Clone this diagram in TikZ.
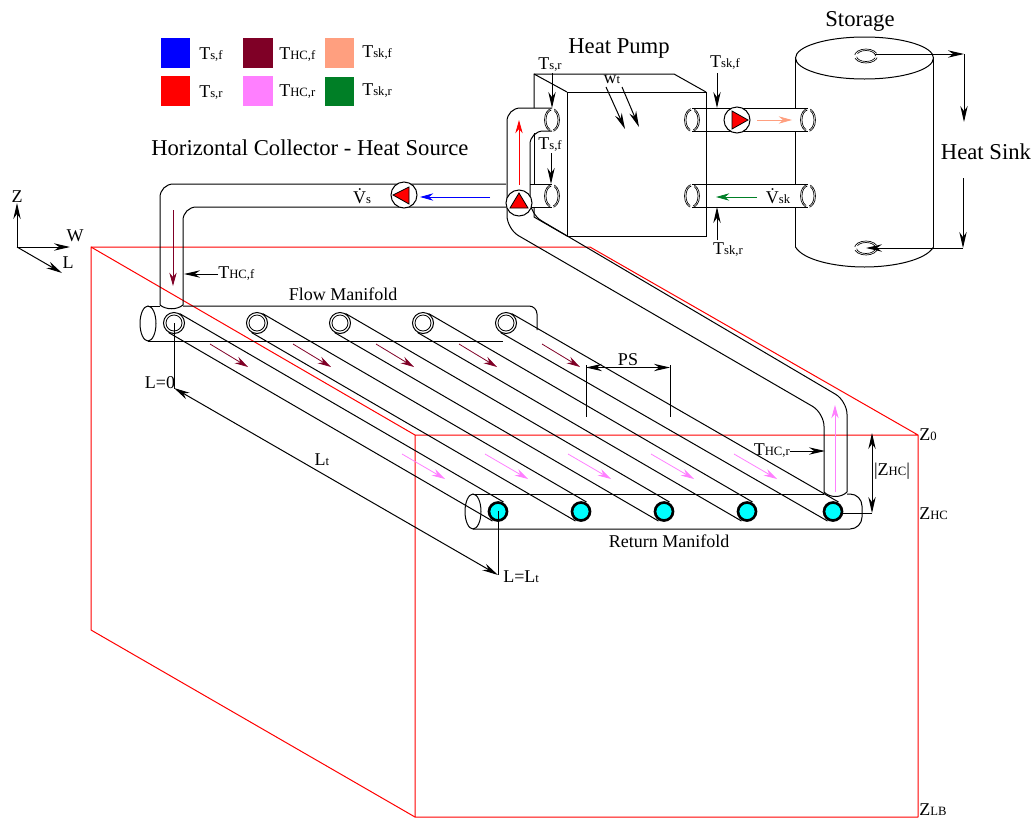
\documentclass[tikz,border=0pt]{standalone}
\usepackage{fontspec}
\setmainfont{Liberation Serif}
\usetikzlibrary{arrows.meta,calc}
\definecolor{cdark}{HTML}{7F0026}
\definecolor{cpink}{HTML}{FF7FFF}
\definecolor{csalm}{HTML}{FF9F7F}
\definecolor{cgreen}{HTML}{007F26}
\definecolor{ccyan}{HTML}{00FFFF}
\definecolor{cred}{HTML}{FF0000}
\definecolor{cblue}{HTML}{0000FF}
\newcommand{\sbs}[1]{{\fontsize{9.5}{9.5}\selectfont #1}}
\newcommand{\vport}[2]{%
  \draw[portln,dash pattern=on 20.3pt off 2.5pt,dash phase=10.15pt] (#1,#2) ellipse[x radius=7.5,y radius=11.5];
  \draw[portln,dash pattern=on 17pt off 2.4pt,dash phase=8.5pt] (#1,#2) ellipse[x radius=6,y radius=10];}
\newcommand{\hport}[2]{%
  \draw[portln,dash pattern=on 19pt off 2.5pt,dash phase=20.2pt] (#1,#2) ellipse[x radius=11.5,y radius=7];
  \draw[portln,dash pattern=on 16pt off 2.5pt,dash phase=17.2pt] (#1,#2) ellipse[x radius=9.5,y radius=5.5];}
\newcommand{\tubeport}[1]{%
  \draw[ln,fill=white] (#1) circle[radius=10.5];
  \draw[thinln] (#1) circle[radius=8];}
\newcommand{\tubeend}[1]{\draw[line width=2pt,fill=ccyan] (#1) circle[radius=9];}
\tikzset{
  ln/.style={line width=.75pt,black},
  thinln/.style={line width=.6pt,black},
  portln/.style={line width=.5pt,black},
  redln/.style={line width=.75pt,cred},
  arr/.style={ln,-{Stealth[length=12pt,width=5.5pt]}},
  darr/.style={ln,{Stealth[length=12pt,width=5.5pt]}-{Stealth[length=12pt,width=5.5pt]}},
  carr/.style={line width=.6pt,-{Stealth[length=10pt,width=5.5pt]}},
  txt/.style={inner sep=0pt,font=\fontsize{13.5}{13.5}\selectfont},
  big/.style={inner sep=0pt,font=\fontsize{17}{17}\selectfont},
  pumpc/.style={circle,draw,fill=white,line width=.75pt,minimum size=19.5pt,inner sep=0pt},
  tri/.style={draw=black,line width=.6pt,fill=cred}
}
\begin{document}
\begin{tikzpicture}[x=.75pt,y=-.75pt]
\useasboundingbox (0,0) rectangle (1035,818);
% ---- red ground block
\draw[redln,line join=round] (91,247)--(590,247)--(918,435)--(918,817)--(415,817)--(415,435)--(918,435);
\draw[redln,line join=round] (415,435)--(91,247)--(91,630)--(415,817);
% ---- legend
\fill[cblue] (161,38) rectangle (190,68);
\fill[cred] (161,76) rectangle (190,106);
\fill[cdark] (243,38) rectangle (273,68);
\fill[cpink] (243,76) rectangle (273,106);
\fill[csalm] (325,38) rectangle (354,68);
\fill[cgreen] (325,77) rectangle (354,106);
\node[txt,anchor=west] (k1) at (199,55) {T\sbs{s,f}};
\node[txt,anchor=west] (k2) at (199,93) {T\sbs{s,r}};
\node[txt,anchor=west] (k3) at (279,55) {T\sbs{HC,f}};
\node[txt,anchor=west] (k4) at (279,92) {T\sbs{HC,r}};
\node[txt,anchor=west] (k5) at (362,53) {T\sbs{sk,f}};
\node[txt,anchor=west] (k6) at (362,91) {T\sbs{sk,r}};
\node[big,anchor=west] (title) at (151,148) {Horizontal Collector - Heat Source};
% ---- axes
\coordinate (o) at (17,247);
\node[txt] (axZ) at (17,197) {Z};
\node[txt] (axW) at (75,236) {W};
\node[txt] (axL) at (68,263) {L};
\draw[arr] (o)--(17,203);
\draw[arr] (o)--(70,247);
\draw[arr] (o)--(62,273);
% ---- flow manifold
\draw[ln] (160,306)--(148,306);
\draw[ln,rounded corners=6pt] (183,306)--(537,306)--(537,330);
\draw[ln] (148,341)--(503,341);
\draw[ln] (148,323.5) ellipse[x radius=8,y radius=17.5];
% ---- return manifold
\draw[ln] (473,494)--(824,494);
\draw[ln,rounded corners=9pt] (847,494)--(862,494)--(862,529)--(473,529);
\draw[ln] (473,511.5) ellipse[x radius=8,y radius=17.5];
% ---- heat-pump box
\draw[ln] (534,108)--(534,74)--(674,74)--(706,92);
\draw[ln] (534,74)--(567,92);
\draw[ln] (567,92) rectangle (706,236);
\draw[ln] (534,133)--(534,184);
\draw[ln] (534,207)--(534,217)--(567,236);
% ---- pipes, source side
\draw[ln,rounded corners=10pt] (506,184)--(160,184)--(160,305);
\draw[ln,rounded corners=10pt] (506,207)--(183,207)--(183,305);
\draw[ln] (160,305) .. controls (166,310) and (177,310) .. (183,305);
\draw[ln] (530,184)--(552,184);
\draw[ln] (530,207)--(552,207);
\draw[ln,rounded corners=10pt] (552,108)--(507,108)--(507,229)--(824,413)--(824,492);
\draw[ln,rounded corners=10pt] (552,131)--(530,131)--(530,214)--(847,401)--(847,492);
\draw[ln] (824,492) .. controls (830,498) and (841,498) .. (847,492);
% ---- tubes
\foreach \fx/\rx in {174/498,257/581,340/664,423/747,506/833}{
  \coordinate (f) at (\fx,323);
  \coordinate (r) at (\rx,511.5);
  \tubeport{f}
  \draw[ln] ($(f)+(5.5,-9.5)$)--($(r)+(5.5,-9.5)$);
  \draw[ln] ($(f)+(-5.5,9.5)$)--($(r)+(-5.5,9.5)$);
  \tubeend{r}
}
\foreach \dx in {0,83,166,249,332}{
  \draw[carr,cdark] (210+\dx,344)--(248+\dx,367);
  \draw[carr,cpink] (402+\dx,454)--(445+\dx,479);
}
% ---- sink side pipes
\draw[ln] (692,108)--(808,108);
\draw[ln] (692,131)--(808,131);
\draw[ln] (692,184)--(808,184);
\draw[ln] (692,207)--(808,207);
% ---- storage tank
\draw[ln] (864.5,58) ellipse[x radius=69,y radius=21];
\draw[ln] (795.5,58)--(795.5,108);
\draw[ln] (795.5,131)--(795.5,184);
\draw[ln] (795.5,207)--(795.5,247);
\draw[ln] (933.5,58)--(933.5,247);
\draw[ln] (795.5,247) .. controls (803,260) and (835,267) .. (864.5,267) .. controls (894,267) and (926,260) .. (933.5,247);
% ---- ports
\vport{552}{120}\vport{552}{196}
\vport{692}{120}\vport{692}{196}
\vport{808}{120}\vport{808}{196}
\hport{866}{56}\hport{866}{248}
% ---- pumps
\node[pumpc] (p1) at (404,195) {};
\draw[tri] (393,195)--(409,187)--(409,204)--cycle;
\node[pumpc] (p2) at (519,203) {};
\draw[tri] (519,193)--(510,208)--(528,208)--cycle;
\node[pumpc] (p3) at (737,120) {};
\draw[tri] (732,111)--(748,120)--(732,129)--cycle;
% ---- flow arrows
\draw[carr,cblue] (490,197)--(420,197);
\draw[carr,cred] (519,185)--(519,120);
\draw[carr,csalm] (757,120)--(792,120);
\draw[carr,cgreen] (757,197)--(716,197);
\draw[carr,cdark] (173,210)--(173,286);
\draw[carr,cpink] (835,492)--(835,405);
% ---- labels with pointers
\node[big] (hp) at (619,48) {Heat Pump};
\node[big] (st) at (860,21) {Storage};
\node[big] (hs) at (986,152) {Heat Sink};
\node[txt] (tsr) at (550,65) {T\sbs{s,r}};
\node[txt] (tsf) at (550,145) {T\sbs{s,f}};
\node[txt] (tskf) at (725,63) {T\sbs{sk,f}};
\node[txt] (tskr) at (728,250) {T\sbs{sk,r}};
\node[txt] (wt) at (612,79) {w\sbs{t}};
\node[txt,anchor=west] (thcf) at (218,274) {T\sbs{HC,f}};
\node[txt,anchor=east] (thcr) at (790,451) {T\sbs{HC,r}};
\node[txt] (vs) at (362,196) {V̇\sbs{s}};
\node[txt] (vsk) at (778,196) {V̇\sbs{sk}};
\node[txt] (fm) at (343,294) {Flow Manifold};
\node[txt] (rm) at (669,541) {Return Manifold};
\node[txt] (ps) at (628,360) {PS};
\node[txt] (l0) at (160,383) {L=0};
\node[txt] (lt) at (322,460) {L\sbs{t}};
\node[txt,anchor=west] (llt) at (503,577) {L=L\sbs{t}};
\node[txt] (zhc) at (892,471) {|Z\sbs{HC}|};
\node[txt,anchor=west] (z0) at (919,435) {Z\sbs{0}};
\node[txt,anchor=west] (zh) at (919,514) {Z\sbs{HC}};
\node[txt,anchor=west] (zlb) at (919,810) {Z\sbs{LB}};
\draw[arr] (552,73)--(552,108);
\draw[arr] (551,153)--(551,184);
\draw[arr] (717,73)--(717,108);
\draw[arr] (717,240)--(717,207);
\draw[arr] (606,87)--(625,129);
\draw[arr] (622,87)--(639,127);
\draw[arr] (thcf.west)--(184,274);
\draw[arr] (thcr.east)--(825,451);
% ---- heat sink loop
\coordinate (hs1) at (964,54);
\coordinate (hs2) at (963,248);
\draw[arr] (875,54)--(hs1);
\draw[arr] (hs1)--(964,122);
\draw[arr] (963,178)--(hs2);
\draw[arr] (hs2)--(866,248);
% ---- dimensions
\draw[ln] (586,365)--(586,417);
\draw[ln] (670,365)--(670,417);
\draw[darr] (586,367.5)--(670,367.5);
\draw[ln] (174,323)--(174,389);
\draw[ln] (498,511)--(498,575);
\draw[darr] (174,388)--(498,575);
\draw[ln] (843,513)--(872,513);
\draw[darr] (872,433)--(872,513);
\end{tikzpicture}
\end{document}
